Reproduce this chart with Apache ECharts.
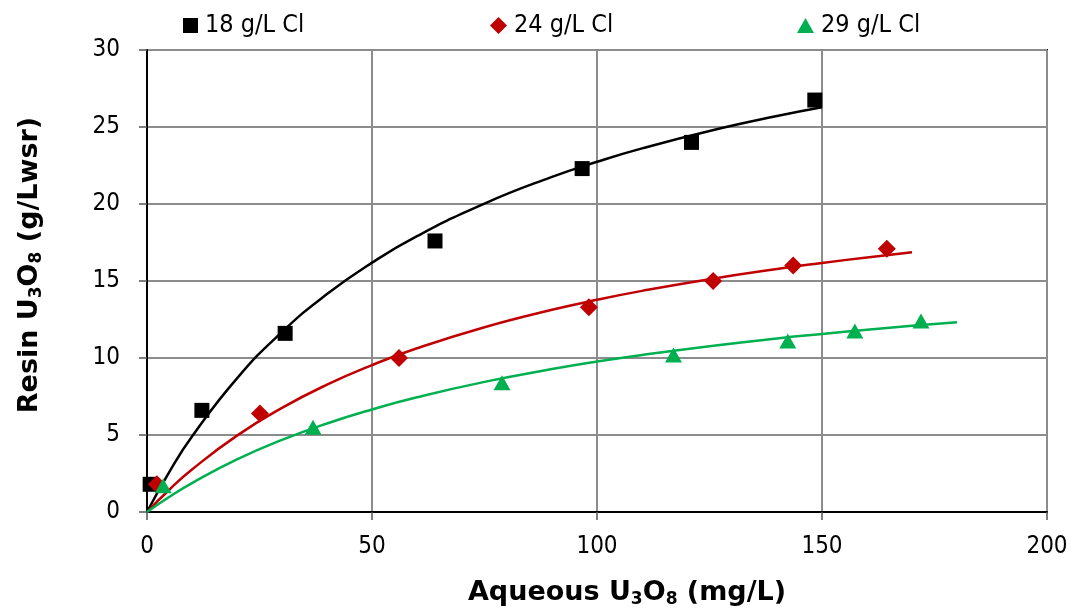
<!DOCTYPE html>
<html>
<head>
<meta charset="utf-8">
<script src="https://cdn.jsdelivr.net/npm/echarts@6/dist/echarts.min.js"></script>
<style>
html, body { margin: 0; padding: 0; background: #fff; }
#chart { width: 1073px; height: 609px; }
</style>
</head>
<body>
<div id="chart"></div>
<script>
// measured points (aqueous mg/L, resin g/L wsr)
var cl18_x = [0.7, 12.2, 30.7, 64, 96.7, 121, 148.4];
var cl18_y = [1.8, 6.6, 11.6, 17.6, 22.3, 24.0, 26.75];
var cl24_x = [2.2, 25.1, 56, 98.2, 125.8, 143.6, 164.4];
var cl24_y = [1.8, 6.4, 10.0, 13.3, 15.0, 16.0, 17.1];
var cl29_x = [3.6, 36.9, 78.9, 117, 142.4, 157.3, 172];
var cl29_y = [1.7, 5.5, 8.4, 10.2, 11.1, 11.75, 12.4];

// fitted curves
var fit18_x = [0, 5, 10, 20, 30, 40, 50, 60, 75, 90, 100, 110, 125, 140, 150];
var fit18_y = [0, 2.62, 4.90, 8.68, 11.69, 14.15, 16.19, 17.91, 20.03, 21.76, 22.74, 23.61, 24.74, 25.71, 26.28];
var fit24_x = [0, 5, 10, 20, 30, 40, 50, 60, 75, 90, 100, 110, 125, 140, 150, 160, 170];
var fit24_y = [0, 1.46, 2.76, 4.96, 6.76, 8.27, 9.54, 10.63, 12.0, 13.13, 13.78, 14.36, 15.12, 15.78, 16.17, 16.53, 16.86];
var fit29_x = [0, 5, 10, 20, 30, 40, 50, 60, 75, 90, 100, 110, 125, 140, 150, 160, 170, 180];
var fit29_y = [0, 0.99, 1.88, 3.41, 4.68, 5.75, 6.66, 7.45, 8.45, 9.28, 9.77, 10.2, 10.77, 11.27, 11.56, 11.84, 12.09, 12.32];

var names = ['18 g/L Cl', '24 g/L Cl', '29 g/L Cl'];
var colors = ['#000000', '#c00000', '#00b050'];

function pairs(xs, ys) {
  return xs.map(function (x, i) { return [x, ys[i]]; });
}

var font = "'DejaVu Sans Condensed', 'DejaVu Sans', sans-serif";
var boldFont = "'DejaVu Sans', sans-serif";
var titleRich = {
  b: { fontFamily: boldFont, fontWeight: 'bold', fontSize: 27, color: '#000' },
  s: { fontFamily: boldFont, fontWeight: 'bold', fontSize: 17, color: '#000', padding: [13, 0, 0, 0] }
};
var legendText = { fontFamily: font, fontSize: 25, color: '#000', padding: [0, 0, 0, 2] };

var chart = echarts.init(document.getElementById('chart'), null, {renderer: 'canvas'});
var option = {
  animation: false,
  textStyle: { fontFamily: font },
  grid: { left: 147, right: 26, top: 50, bottom: 97, outerBoundsMode: 'none', containLabel: false,
    show: true, borderColor: '#000', borderWidth: 2, backgroundColor: 'transparent' },
  legend: [
    { data: [{ name: names[0], icon: 'rect' }], left: 178, top: 8, itemWidth: 15, itemHeight: 15, itemGap: 0, textStyle: legendText },
    { data: [{ name: names[1], icon: 'diamond' }], left: 485, top: 8, itemWidth: 17, itemHeight: 17, itemGap: 0, textStyle: legendText },
    { data: [{ name: names[2], icon: 'triangle' }], left: 792, top: 8, itemWidth: 17, itemHeight: 15, itemGap: 0, textStyle: legendText }
  ],
  xAxis: {
    type: 'value', min: 0, max: 200, interval: 50,
    name: '{b|Aqueous U}{s|3}{b|O}{s|8}{b| (mg/L)}',
    nameLocation: 'middle', nameGap: 66,
    nameTextStyle: { rich: titleRich, padding: [0, 0, 0, 60] },
    axisLine: { show: true, lineStyle: { color: '#000', width: 2 } },
    axisTick: { show: true, length: 8, lineStyle: { color: '#555', width: 1.5 } },
    axisLabel: { fontSize: 24, color: '#000', margin: 23, fontFamily: font },
    splitLine: { show: true, lineStyle: { color: '#8c8c8c', width: 2 } }
  },
  yAxis: {
    type: 'value', min: 0, max: 30, interval: 5,
    name: '{b|Resin U}{s|3}{b|O}{s|8}{b| (g/Lwsr)}',
    nameLocation: 'middle', nameGap: 102, nameRotate: 90,
    nameTextStyle: { rich: titleRich, padding: [0, 0, 0, 32] },
    axisLine: { show: true, lineStyle: { color: '#000', width: 2 } },
    axisTick: { show: true, length: 8, lineStyle: { color: '#555', width: 1.5 } },
    axisLabel: { fontSize: 24, color: '#000', margin: 27, fontFamily: font },
    splitLine: { show: true, lineStyle: { color: '#8c8c8c', width: 2 } }
  },
  series: [
    { name: 'fit18', type: 'line', smooth: true, showSymbol: false, data: pairs(fit18_x, fit18_y),
      lineStyle: { color: colors[0], width: 2.5 }, z: 2 },
    { name: 'fit24', type: 'line', smooth: true, showSymbol: false, data: pairs(fit24_x, fit24_y),
      lineStyle: { color: colors[1], width: 2.5 }, z: 2 },
    { name: 'fit29', type: 'line', smooth: true, showSymbol: false, data: pairs(fit29_x, fit29_y),
      lineStyle: { color: colors[2], width: 2.5 }, z: 2 },
    { name: names[0], type: 'scatter', symbol: 'rect', symbolSize: 15, data: pairs(cl18_x, cl18_y),
      itemStyle: { color: colors[0], opacity: 1 }, z: 3 },
    { name: names[1], type: 'scatter', symbol: 'diamond', symbolSize: 18, data: pairs(cl24_x, cl24_y),
      itemStyle: { color: colors[1], opacity: 1 }, z: 3 },
    { name: names[2], type: 'scatter', symbol: 'triangle', symbolSize: [17, 15], data: pairs(cl29_x, cl29_y),
      itemStyle: { color: colors[2], opacity: 1 }, z: 3 }
  ]
};
chart.setOption(option);
</script>
</body>
</html>
